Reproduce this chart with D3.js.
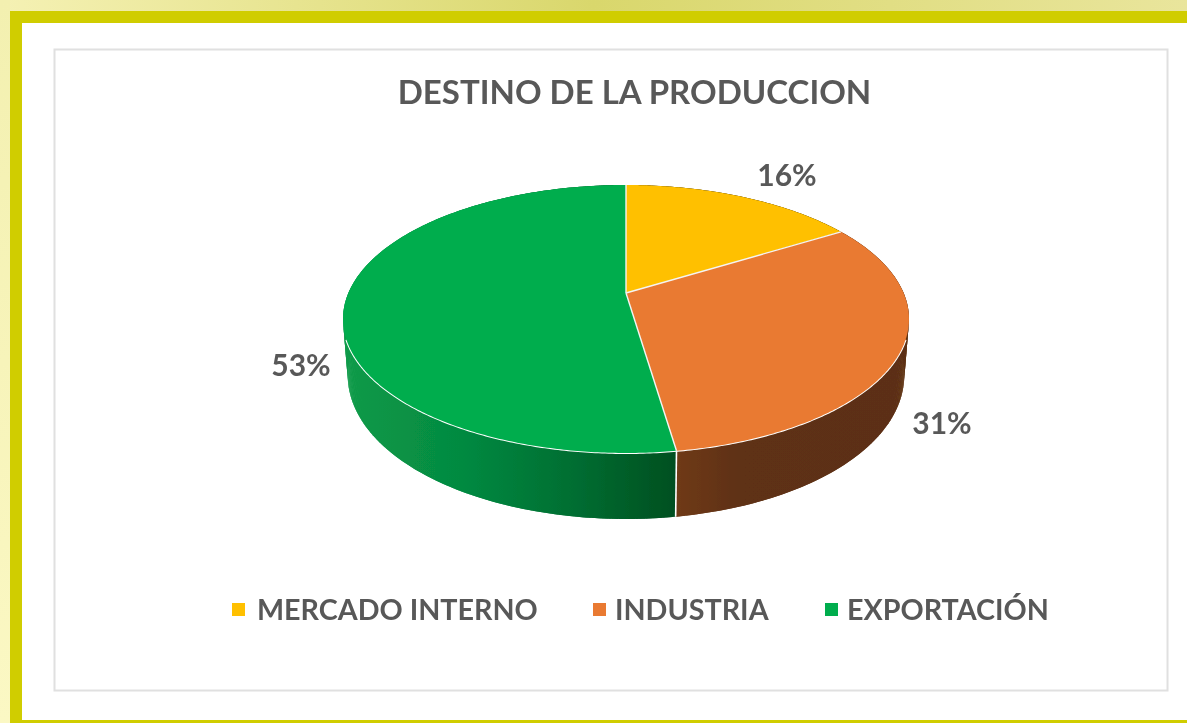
<!DOCTYPE html>
<html>
<head>
<meta charset="utf-8">
<script src="https://cdn.jsdelivr.net/npm/d3@7"></script>
<style>
  html, body { margin: 0; padding: 0; background: #fff; overflow: hidden; }
  svg { display: block; }
  text { font-family: Lato, "Open Sans", sans-serif; font-weight: 700; fill: #595959; }
</style>
</head>
<body>
<div id="chart"></div>
<script>
var title = "DESTINO DE LA PRODUCCION";
var categories = ["MERCADO INTERNO", "INDUSTRIA", "EXPORTACIÓN"];
var shares = [16.3, 31.49, 52.5];
var topColors = ["#ffc000", "#e97a30", "#00ad4e"];

var w = 1187;
var h = 723;

var svg = d3.select("#chart").append("svg").attr("width", w).attr("height", h);
var defs = svg.append("defs");

// outer page background + frame
var bg = defs.append("linearGradient").attr("id", "bgTop");
bg.append("stop").attr("offset", "0%").attr("stop-color", "#f5f1b4");
bg.append("stop").attr("offset", "50%").attr("stop-color", "#d9d76c");
bg.append("stop").attr("offset", "100%").attr("stop-color", "#e9e59c");

var bgLeft = defs.append("linearGradient").attr("id", "bgLeft")
  .attr("x1", 0).attr("x2", 0).attr("y1", 0).attr("y2", 1);
bgLeft.append("stop").attr("offset", "0%").attr("stop-color", "#f3f0b0");
bgLeft.append("stop").attr("offset", "100%").attr("stop-color", "#fbf8c4");

svg.append("rect").attr("width", w).attr("height", 11).attr("fill", "url(#bgTop)");
svg.append("rect").attr("y", 0).attr("width", 10).attr("height", h).attr("fill", "url(#bgLeft)");
svg.append("rect").attr("x", 10).attr("y", 11).attr("width", w - 10).attr("height", h - 11).attr("fill", "#d0cd00");
svg.append("rect").attr("x", 22).attr("y", 23).attr("width", w - 22).attr("height", 697).attr("fill", "#fff");

// chart area
svg.append("rect")
  .attr("x", 54.5).attr("y", 49.5).attr("width", 1113).attr("height", 641)
  .attr("fill", "#fff").attr("stroke", "#e0e0e0").attr("stroke-width", 2);

// the source is an upscaled picture, so everything is a little soft
var soft = defs.append("filter").attr("id", "soft");
soft.append("feGaussianBlur").attr("stdDeviation", 0.55);

// perspective disc: u,v on the unit circle go to screen x,y
var cx = 626, apexY = 293, slant = -0.194, yScale = 72.1, rTop = 277.6, rBottom = 273;

function project(angle, r, isBottom) {
  var u = Math.sin(angle), v = -Math.cos(angle);
  var d = 1 + slant * v;
  // wall gets taller toward the viewer
  var dy = isBottom ? 53.6 + 12.4 * v : 0;
  return [cx + r * u / d, (apexY + yScale * v) / d + dy];
}

function arcPoints(a0, a1, r, isBottom) {
  var n = Math.max(2, Math.ceil((a1 - a0) / 0.01));
  return d3.range(n + 1).map(function(i) {
    return project(a0 + (a1 - a0) * i / n, r, isBottom);
  });
}

var pie = d3.pie().sort(null).value(function(d) { return d; });
var arcs = pie(shares);
var line = d3.line();

var wallColors = [
  [["0%", "#7f5a00"], ["100%", "#5c4400"]],
  [["0%", "#6f3a17"], ["28%", "#5e3013"], ["100%", "#5c2f12"]],
  [["0%", "#0a9a48"], ["35%", "#058a41"], ["70%", "#006d31"], ["100%", "#004f20"]]
];

var plot = svg.append("g").attr("filter", "url(#soft)");

// side walls first, the top disc paints over whatever should be hidden
arcs.forEach(function(a, i) {
  var grad = defs.append("linearGradient").attr("id", "wall" + i)
    .attr("gradientUnits", "userSpaceOnUse");
  if (i == 1) {
    grad.attr("x1", project(a.endAngle, rTop)[0]).attr("x2", 909);
  } else {
    grad.attr("x1", 345).attr("x2", project(a.startAngle, rTop)[0]);
  }
  grad.attr("y1", 0).attr("y2", 0);
  wallColors[i].forEach(function(s) {
    grad.append("stop").attr("offset", s[0]).attr("stop-color", s[1]);
  });

  var top = arcPoints(a.startAngle, a.endAngle, rTop, false);
  var bottom = arcPoints(a.startAngle, a.endAngle, rBottom, true);
  // overlapping strips so the silhouette follows the real side of the cylinder
  var g = plot.append("g").attr("fill", "url(#wall" + i + ")");
  for (var k = 0; k < top.length - 1; k++) {
    var k2 = Math.min(k + 2, top.length - 1);
    g.append("path").attr("d", line([top[k], top[k2], bottom[k2], bottom[k]]) + "Z");
  }
});

// white seam where green and orange meet on the wall
var seam = arcs[1].endAngle;
plot.append("path")
  .attr("d", line([project(seam, rTop, false), project(seam, rBottom, true)]))
  .attr("stroke", "#fff").attr("stroke-width", 1.6).attr("fill", "none");

// rim highlight along the front edge
plot.append("path")
  .attr("d", line(arcPoints(Math.PI * 0.61, Math.PI * 1.39, rTop, false)))
  .attr("stroke", "#fff").attr("stroke-width", 2).attr("fill", "none");

// top slices
arcs.forEach(function(a, i) {
  var pts = [[cx, apexY]].concat(arcPoints(a.startAngle, a.endAngle, rTop, false));
  plot.append("path")
    .attr("d", line(pts) + "Z")
    .attr("fill", topColors[i]);
});

// white lines between the slices, drawn after so none is painted over
arcs.forEach(function(a) {
  plot.append("path")
    .attr("d", line([project(a.startAngle, rTop, false), [cx, apexY]]))
    .attr("stroke", "#f4f4f4").attr("stroke-width", 1.4).attr("fill", "none");
});

var chartText = svg.append("g").attr("filter", "url(#soft)");

chartText.append("text")
  .attr("x", 634.5).attr("y", 104)
  .attr("text-anchor", "middle")
  .attr("font-size", 33)
  .text(title);

// value labels, placed by hand around the disc
var labelAt = [[787, 186], [942, 434], [301, 376]];
arcs.forEach(function(a, i) {
  chartText.append("text")
    .attr("x", labelAt[i][0]).attr("y", labelAt[i][1])
    .attr("text-anchor", "middle")
    .attr("font-size", 30)
    .text(Math.round(a.data) + "%");
});

// legend
var legendX = [232, 593, 825];
categories.forEach(function(c, i) {
  chartText.append("rect")
    .attr("x", legendX[i]).attr("y", 603)
    .attr("width", 13).attr("height", 13)
    .attr("fill", topColors[i]);
  chartText.append("text")
    .attr("x", legendX[i] + (i == 0 ? 25 : 22)).attr("y", 620)
    .attr("font-size", 28.7)
    .text(c);
});
</script>
</body>
</html>
